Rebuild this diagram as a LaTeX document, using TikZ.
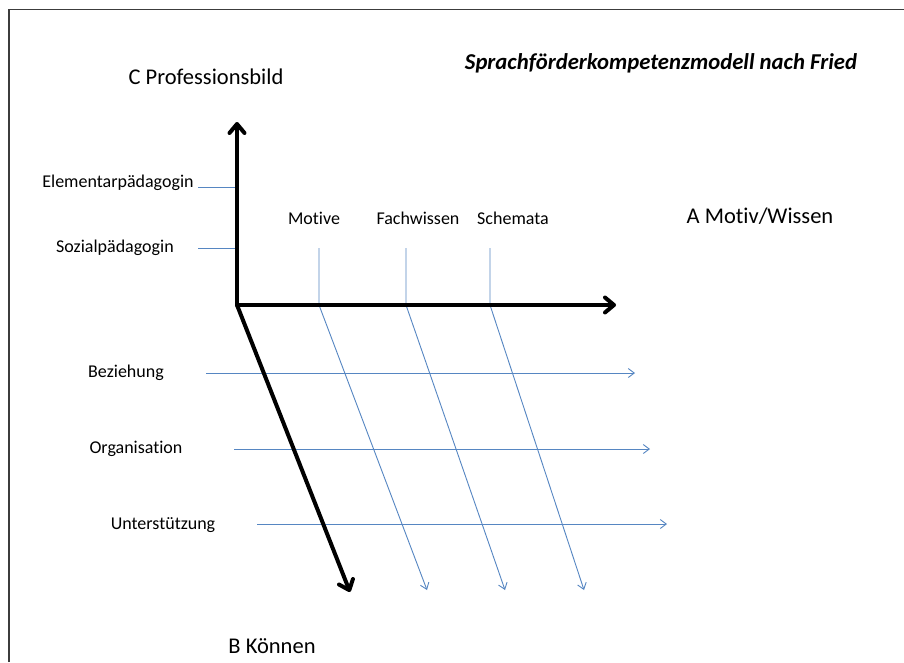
\documentclass[tikz,border=0pt]{standalone}
\usepackage{fontspec}
\setmainfont[Ligatures=NoCommon]{Carlito}
\usetikzlibrary{arrows.meta}
\definecolor{axisblue}{RGB}{86,134,194}
\definecolor{framegray}{RGB}{60,60,60}
\tikzset{
  axis/.style={line width=4pt, line cap=round, line join=round,
    -{Straight Barb[length=9pt,width=15pt,line cap=round,line join=round]}},
  guide/.style={draw=axisblue, line width=0.9pt},
  guidearrow/.style={guide, -{Straight Barb[length=6pt,width=9pt]}},
  small/.style={font=\fontsize{18}{20}\selectfont, inner sep=0pt},
  large/.style={font=\fontsize{22.5}{26}\selectfont, inner sep=0pt},
}
\begin{document}
\begin{tikzpicture}[x=1pt, y=-1pt]
\useasboundingbox (0,0) rectangle (904,662);
\fill[white] (0,0) rectangle (904,662);
% frame
\draw[framegray, line width=1.1pt] (9,662) -- (9,9.5) -- (904,9.5);

% title and axis labels
\node[inner sep=0pt, font=\fontsize{22.7}{26}\selectfont\bfseries\itshape] (title) at (661,63) {Sprachförderkompetenzmodell nach Fried};
\node[large] (labC) at (206,77) {C Professionsbild};
\node[large] (labA) at (760,216) {A Motiv/Wissen};
\node[large] (labB) at (272,646) {B Können};

% labels along C
\node[small] (elem) at (118,183) {Elementarpädagogin};
\node[small] (sozi) at (115,248) {Sozialpädagogin};
% labels along A
\node[small] (moti) at (314,218) {Motive};
\node[small] (fach) at (418,218) {Fachwissen};
\node[small] (sche) at (513,218) {Schemata};
% labels along B
\node[small] (bezi) at (126,373) {Beziehung};
\node[small] (orga) at (136,449) {Organisation};
\node[small] (unte) at (163,525) {Unterstützung};

% key points
\coordinate (O) at (237,305);
\coordinate (Ctip) at (237,122);
\coordinate (Atip) at (616,305);
\coordinate (Btip) at (350,592);

\coordinate (e1) at (198,187); \coordinate (e2) at (237,187);
\coordinate (s1) at (198,248); \coordinate (s2) at (237,248);

\coordinate (m0) at (319,248); \coordinate (m1) at (319,305); \coordinate (m2) at (427,590);
\coordinate (f0) at (406,248); \coordinate (f1) at (406,305); \coordinate (f2) at (505,590);
\coordinate (k0) at (490,248); \coordinate (k1) at (490,305); \coordinate (k2) at (584,590);

\coordinate (b0) at (206,373); \coordinate (b1) at (635,373);
\coordinate (o0) at (234,449); \coordinate (o1) at (650,449);
\coordinate (u0) at (257,524); \coordinate (u1) at (667,524);

% thin guides
\draw[guide] (e1) -- (e2);
\draw[guide] (s1) -- (s2);
\draw[guidearrow] (m0) -- (m1) -- (m2);
\draw[guidearrow] (f0) -- (f1) -- (f2);
\draw[guidearrow] (k0) -- (k1) -- (k2);
\draw[guidearrow] (b0) -- (b1);
\draw[guidearrow] (o0) -- (o1);
\draw[guidearrow] (u0) -- (u1);

% main axes
\draw[axis] (O) -- (Ctip);
\draw[axis] (O) -- (Atip);
\draw[axis] (O) -- (Btip);
\end{tikzpicture}
\end{document}
